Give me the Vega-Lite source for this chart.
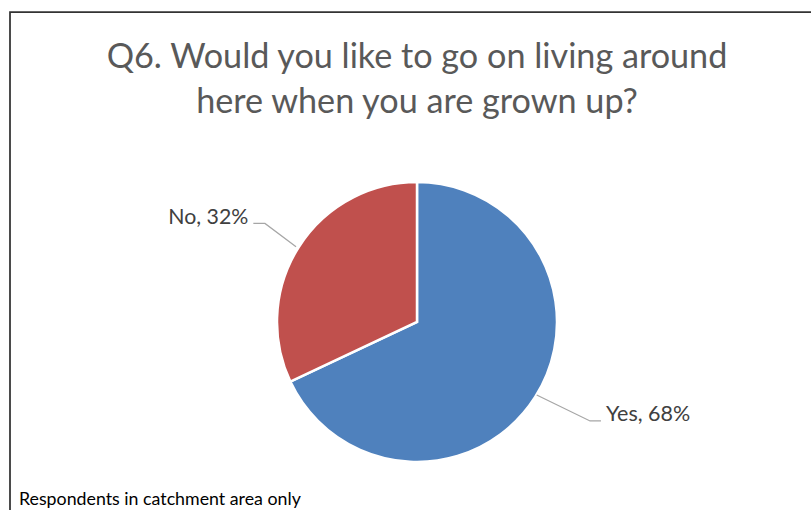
{
  "$schema": "https://vega.github.io/schema/vega-lite/v6.json",
  "width": 811,
  "height": 510,
  "autosize": {"type": "fit", "contains": "padding"},
  "padding": {"left": 10, "top": 12, "right": -13, "bottom": -15},
  "background": "white",
  "config": {"view": {"stroke": "#333333", "strokeWidth": 1.75}},
  "title": {
    "text": ["Q6. Would you like to go on living around", "here when you are grown up?"],
    "font": "Lato",
    "fontSize": 34.2,
    "fontWeight": "normal",
    "color": "#595959",
    "anchor": "middle",
    "baseline": "alphabetic",
    "lineHeight": 45,
    "offset": -135
  },
  "datasets": {
    "slices": [
      {"answer": "Yes", "percent": 68},
      {"answer": "No", "percent": 32}
    ],
    "leaders": [
      {"answer": "No", "pt": 0, "u": -1.169, "v": 0.7036},
      {"answer": "No", "pt": 1, "u": -1.086, "v": 0.7036},
      {"answer": "No", "pt": 2, "u": -0.864, "v": 0.538},
      {"answer": "Yes", "pt": 0, "u": 1.314, "v": -0.707},
      {"answer": "Yes", "pt": 1, "u": 1.236, "v": -0.707},
      {"answer": "Yes", "pt": 2, "u": 0.855, "v": -0.521}
    ]
  },
  "layer": [
    {
      "data": {"name": "slices"},
      "mark": {"type": "arc", "outerRadius": 140, "stroke": "white", "strokeWidth": 2.5},
      "encoding": {
        "x": {"datum": 0, "type": "quantitative", "scale": {"domain": [-2.907, 2.907], "nice": false, "zero": false}, "axis": null},
        "y": {"datum": 0, "type": "quantitative", "scale": {"domain": [-1.45, 2.2143], "nice": false, "zero": false}, "axis": null},
        "theta": {"field": "percent", "type": "quantitative", "stack": true},
        "order": {"field": "answer", "sort": "descending"},
        "color": {"field": "answer", "type": "nominal", "scale": {"domain": ["Yes", "No"], "range": ["#4F81BD", "#C0504D"]}, "legend": null}
      }
    },
    {
      "data": {"name": "leaders"},
      "mark": {"type": "line", "color": "#A6A6A6", "strokeWidth": 1.25},
      "encoding": {
        "x": {"field": "u", "type": "quantitative"},
        "y": {"field": "v", "type": "quantitative"},
        "detail": {"field": "answer"},
        "order": {"field": "pt", "type": "quantitative"}
      }
    },
    {
      "data": {"name": "leaders"},
      "transform": [
        {"filter": "datum.pt == 0 && datum.answer == 'No'"},
        {"lookup": "answer", "from": {"data": {"name": "slices"}, "key": "answer", "fields": ["percent"]}},
        {"calculate": "datum.answer + ', ' + datum.percent + '%'", "as": "label"}
      ],
      "mark": {"type": "text", "align": "right", "baseline": "alphabetic", "dx": -5, "dy": 1, "font": "Lato", "fontSize": 21.3, "color": "#404040"},
      "encoding": {
        "x": {"field": "u", "type": "quantitative"},
        "y": {"field": "v", "type": "quantitative"},
        "text": {"field": "label"}
      }
    },
    {
      "data": {"name": "leaders"},
      "transform": [
        {"filter": "datum.pt == 0 && datum.answer == 'Yes'"},
        {"lookup": "answer", "from": {"data": {"name": "slices"}, "key": "answer", "fields": ["percent"]}},
        {"calculate": "datum.answer + ', ' + datum.percent + '%'", "as": "label"}
      ],
      "mark": {"type": "text", "align": "left", "baseline": "alphabetic", "dx": 5, "dy": 0, "font": "Lato", "fontSize": 21.5, "color": "#404040"},
      "encoding": {
        "x": {"field": "u", "type": "quantitative"},
        "y": {"field": "v", "type": "quantitative"},
        "text": {"field": "label"}
      }
    },
    {
      "data": {"values": [{"note": "Respondents in catchment area only"}]},
      "mark": {"type": "text", "align": "left", "baseline": "alphabetic", "font": "Lato", "fontSize": 17.8, "color": "#000000"},
      "encoding": {
        "x": {"datum": -2.843, "type": "quantitative"},
        "y": {"datum": -1.305, "type": "quantitative"},
        "text": {"field": "note"}
      }
    }
  ]
}
